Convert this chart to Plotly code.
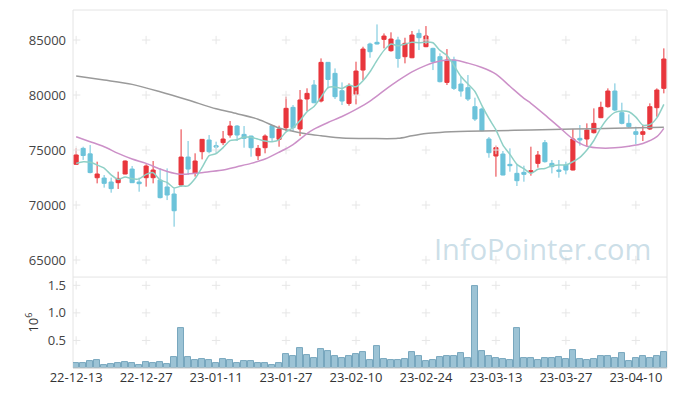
import plotly.graph_objects as go
import pandas as pd

dates = [
    "22-12-13", "22-12-14", "22-12-15", "22-12-16", "22-12-19", "22-12-20", "22-12-21", "22-12-22",
    "22-12-23", "22-12-26", "22-12-27", "22-12-28", "22-12-29",
    "23-01-02", "23-01-03", "23-01-04", "23-01-05", "23-01-06", "23-01-09", "23-01-10", "23-01-11",
    "23-01-12", "23-01-13", "23-01-16", "23-01-17", "23-01-18", "23-01-19", "23-01-20", "23-01-25",
    "23-01-26", "23-01-27", "23-01-30", "23-01-31",
    "23-02-01", "23-02-02", "23-02-03", "23-02-06", "23-02-07", "23-02-08", "23-02-09", "23-02-10",
    "23-02-13", "23-02-14", "23-02-15", "23-02-16", "23-02-17", "23-02-20", "23-02-21", "23-02-22",
    "23-02-23", "23-02-24", "23-02-27", "23-02-28",
    "23-03-02", "23-03-03", "23-03-06", "23-03-07", "23-03-08", "23-03-09", "23-03-10", "23-03-13",
    "23-03-14", "23-03-15", "23-03-16", "23-03-17", "23-03-20", "23-03-21", "23-03-22", "23-03-23",
    "23-03-24", "23-03-27", "23-03-28", "23-03-29", "23-03-30", "23-03-31",
    "23-04-03", "23-04-04", "23-04-05", "23-04-06", "23-04-07", "23-04-10", "23-04-11", "23-04-12",
    "23-04-13", "23-04-14",
]

opens = [73700, 75150, 74650, 72480, 72450, 72090, 72030, 72820, 73270, 72090,
         72485, 72485, 72270, 71640, 71000, 71820, 74360, 72880, 74850, 75910,
         75390, 75670, 76364, 77180, 76420, 76270, 74485, 75210, 77210, 75970,
         77030, 78880, 76910, 79640, 80910, 79455, 82970, 81970, 80390, 79240,
         80060, 82270, 84640, 84790, 85060, 84030, 85000, 83485, 83390, 85606,
         84394, 84240, 83485, 81150, 83180, 81000, 80667, 78940, 78728, 76000,
         74455, 74637, 73697, 72879, 72970, 72970, 73788, 75667, 73788, 73182,
         73636, 73182, 76061, 76000, 76576, 77940, 78940, 80364, 78394, 77424,
         76667, 76424, 76909, 78849, 80606]
highs = [75150, 75300, 75450, 73940, 72730, 72490, 73030, 74050, 73550, 72490,
         73700, 74000, 73330, 73330, 71520, 76880, 75820, 74700, 76000, 76360,
         75760, 76730, 77636, 77270, 77180, 76300, 75455, 76420, 77250, 77212,
         79850, 79090, 80455, 80610, 81360, 83330, 83000, 82420, 81150, 81060,
         83030, 84390, 84760, 86420, 85600, 85700, 85300, 85210, 85820, 85970,
         86270, 84300, 83790, 84180, 83485, 81667, 81818, 79758, 78850, 76180,
         75394, 74910, 75152, 73697, 73576, 75303, 74910, 75910, 74091, 74091,
         73940, 76909, 77273, 77424, 78788, 79394, 80606, 81061, 79303, 78243,
         77121, 77273, 79243, 80606, 84243]
lows = [73700, 74100, 72880, 71970, 71580, 71120, 71460, 72800, 72000, 71210,
        71670, 71970, 70600, 70450, 68030, 71670, 72730, 72580, 74150, 74700,
        74700, 75450, 76121, 75818, 75210, 74390, 74090, 74700, 75820, 75300,
        76730, 76670, 76270, 78550, 79250, 79330, 80610, 79640, 79090, 79030,
        79150, 81360, 83390, 84600, 84240, 83940, 82485, 82880, 83350, 84090,
        84350, 82270, 81150, 80910, 80455, 79850, 79455, 77637, 76700, 74300,
        72576, 72700, 73030, 71728, 72121, 72667, 73394, 73850, 72879, 72485,
        72788, 73150, 75394, 75303, 76500, 77900, 78849, 78546, 77334, 77000,
        75515, 75818, 76818, 78030, 80152]
closes = [74550, 74500, 72950, 72820, 71970, 71490, 72420, 74000, 72030, 71940,
          73545, 73180, 70670, 70910, 69480, 74360, 73270, 74000, 75970, 74850,
          75270, 76000, 77182, 76364, 76060, 75210, 75150, 76270, 76120, 76910,
          78790, 77030, 79550, 80150, 79300, 82970, 81420, 79850, 79455, 80820,
          82180, 84180, 83940, 84640, 85360, 85090, 83330, 84700, 85455, 85212,
          85364, 83030, 81212, 83180, 80606, 80364, 79637, 77818, 76758, 74758,
          75212, 72727, 73576, 72212, 72788, 73121, 74545, 73940, 73485, 73061,
          73182, 76000, 75909, 76818, 77424, 78879, 80364, 78637, 77424, 77121,
          76424, 76667, 78940, 80455, 83273]
volumes = [91000, 91000, 128000, 146000, 55000, 73000, 91000, 110000, 91000, 55000,
           110000, 98000, 110000, 73000, 201000, 732000, 201000, 146000, 165000, 146000,
           91000, 165000, 146000, 91000, 128000, 128000, 91000, 91000, 55000, 91000,
           256000, 220000, 366000, 238000, 183000, 348000, 311000, 220000, 183000, 220000,
           256000, 293000, 146000, 402000, 165000, 146000, 146000, 165000, 293000, 220000,
           128000, 146000, 201000, 220000, 220000, 274000, 183000, 1488000, 311000, 220000,
           183000, 165000, 146000, 732000, 183000, 183000, 146000, 183000, 183000, 201000,
           165000, 330000, 165000, 146000, 165000, 220000, 220000, 183000, 274000, 128000,
           183000, 220000, 183000, 220000, 293000]

# 5-day average: first values, rest averaged from closes
ma5_head = [73788, 73940, 73880, 73640]

ma20_idx = [0, 2, 4, 6, 8, 10, 12, 14, 15, 17, 19, 21, 23, 25, 27, 29, 31, 33, 34, 36,
            38, 40, 42, 44, 46, 48, 50, 52, 54, 56, 58, 60, 62, 64, 65, 67, 69, 71, 73,
            75, 77, 79, 81, 83, 84]
ma20_val = [76212, 75758, 75303, 74697, 74182, 73788, 73273, 72879, 72788, 72879, 73030,
            73182, 73485, 73788, 74182, 74800, 75500, 76500, 76900, 77500, 78050, 78700,
            79450, 80400, 81300, 82100, 82700, 83100, 83180, 82900, 82500, 81900, 80800,
            79700, 79250, 78200, 77100, 76000, 75350, 75180, 75200, 75350, 75600, 76212,
            76970]

malong_idx = [0, 4, 8, 12, 16, 20, 23, 26, 29, 31, 33, 35, 38, 42, 46, 48, 50, 52,
              56, 60, 65, 71, 77, 84]
malong_val = [81727, 81364, 80970, 80303, 79546, 78750, 78300, 77800, 77000, 76700,
              76450, 76300, 76100, 76050, 76061, 76300, 76500, 76600, 76700, 76760,
              76818, 76909, 76970, 77080]

price_ticks = [65000, 70000, 75000, 80000, 85000]
vol_ticks = [500000, 1000000, 1500000]
vol_tick_text = ["0.5", "1.0", "1.5"]
x_tick_labels = dates[::10]

ma5 = pd.Series(closes).rolling(5).mean()
ma5.iloc[:4] = ma5_head

RED = "#e8363c"
BLUE = "#6cc3da"
FONT = "Open Sans"
CROSS = dict(symbol="cross-thin", size=6, line=dict(width=1, color="#e6e6e6"))

fig = go.Figure()

# grid crosses
gx = [d for d in x_tick_labels for _ in price_ticks]
gy = [p for _ in x_tick_labels for p in price_ticks]
fig.add_trace(go.Scatter(x=gx, y=gy, mode="markers", hoverinfo="skip", marker=CROSS,
                         xaxis="x", yaxis="y"))
vx = [d for d in x_tick_labels for _ in vol_ticks]
vy = [p for _ in x_tick_labels for p in vol_ticks]
fig.add_trace(go.Scatter(x=vx, y=vy, mode="markers", hoverinfo="skip", marker=CROSS,
                         xaxis="x2", yaxis="y2"))

fig.add_trace(go.Scatter(x=[dates[i] for i in malong_idx], y=malong_val, mode="lines",
                         line=dict(color="#9a9a9a", width=1.5, shape="spline", smoothing=0.8),
                         xaxis="x", yaxis="y"))
fig.add_trace(go.Scatter(x=[dates[i] for i in ma20_idx], y=ma20_val, mode="lines",
                         line=dict(color="#cc90c8", width=1.5, shape="spline", smoothing=0.8),
                         xaxis="x", yaxis="y"))
fig.add_trace(go.Scatter(x=dates, y=ma5, mode="lines",
                         line=dict(color="#8fd0c6", width=1.5, shape="spline", smoothing=0.6),
                         xaxis="x", yaxis="y"))

fig.add_trace(go.Candlestick(
    x=dates, open=opens, high=highs, low=lows, close=closes,
    increasing=dict(line=dict(color=RED, width=1), fillcolor=RED),
    decreasing=dict(line=dict(color=BLUE, width=1), fillcolor=BLUE),
    whiskerwidth=0, xaxis="x", yaxis="y"))

fig.add_trace(go.Bar(x=dates, y=volumes, width=0.92,
                     marker=dict(color="#9cc3d5", line=dict(color="#78a7be", width=1)),
                     xaxis="x2", yaxis="y2"))

split = 0.254
fig.update_layout(
    width=677, height=396,
    margin=dict(l=73, r=10, t=10, b=28, autoexpand=False),
    paper_bgcolor="white", plot_bgcolor="white",
    showlegend=False,
    boxgap=0.16,
    font=dict(family=FONT, size=13, color="#444"),
    xaxis=dict(type="category", categoryorder="array", categoryarray=dates,
               range=[-0.45, 84.45], showticklabels=False, showgrid=False,
               zeroline=False, rangeslider=dict(visible=False), anchor="y",
               matches="x2", automargin=False),
    yaxis=dict(domain=[split, 1], range=[63450, 87730], tickvals=price_ticks,
               tickformat=".0f", showgrid=False, zeroline=False, ticks="",
               ticklabelstandoff=6, automargin=False),
    xaxis2=dict(type="category", categoryorder="array", categoryarray=dates,
                range=[-0.45, 84.45], tickvals=x_tick_labels, ticktext=x_tick_labels,
                showgrid=False, zeroline=False, ticks="", anchor="y2", automargin=False,
                tickfont=dict(size=13, color="#333")),
    yaxis2=dict(domain=[0, split], range=[0, 1650000], tickvals=vol_ticks,
                ticktext=vol_tick_text, showgrid=False, zeroline=False, ticks="",
                ticklabelstandoff=6, automargin=False,
                title=dict(text="10<sup>6</sup>", font=dict(size=13, color="#333"), standoff=6)),
    bargap=0,
)

# frame lines
line_c = "#e4e4e4"
fig.add_shape(type="rect", xref="paper", yref="paper", x0=0, x1=1, y0=0, y1=1,
              line=dict(color=line_c, width=1), layer="below")
fig.add_shape(type="line", xref="paper", yref="paper", x0=0, x1=1, y0=split, y1=split,
              line=dict(color=line_c, width=1))
fig.add_shape(type="line", xref="paper", yref="paper", x0=0, x1=1, y0=0, y1=0,
              line=dict(color="#cfcfcf", width=1))

fig.add_annotation(text="InfoPointer.com", xref="paper", yref="paper",
                   x=0.977, y=0.335, xanchor="right", yanchor="middle", showarrow=False,
                   font=dict(family=FONT, size=29, color="rgba(160,195,212,0.55)"))

fig.write_html("out.html", config={"displayModeBar": False},
               post_script="document.body.style.margin='0';")
